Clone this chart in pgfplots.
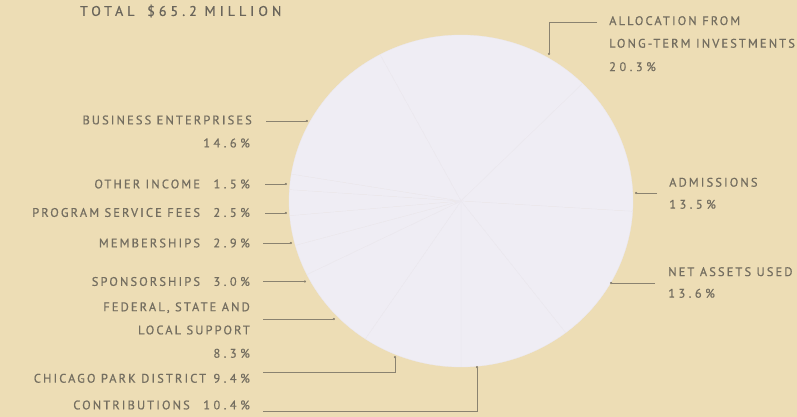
\documentclass[border=0pt]{standalone}
\usepackage{pgfplots}
\pgfplotsset{compat=1.18}
\usepackage{pgfplotstable}
\usetikzlibrary{arrows.meta}
\usepackage{fontspec}
\setmainfont{PT Sans}
\newfontfamily\lab[LetterSpace=17, FakeBold=0.6]{PT Sans}
\newfontfamily\numf[LetterSpace=28, FakeBold=0.6]{PT Sans}
\newfontfamily\ttlfont[LetterSpace=29, FakeBold=0.8]{PT Sans}
\newcommand\pct[1]{{\numf #1}}
\definecolor{bgc}{HTML}{EDDDB5}
\definecolor{piec}{HTML}{EFEDF4}
\definecolor{pieedge}{HTML}{EBE8EF}
\definecolor{txt}{HTML}{746E60}
\definecolor{ttl}{HTML}{6A655B}
\definecolor{lead}{HTML}{8A8270}

\pgfplotstableread[col sep=comma]{
label,value
Allocation from long-term investments,20.3
Admissions,13.5
Net assets used,13.6
Contributions,10.4
Chicago Park District,9.4
Federal state and local support,8.3
Sponsorships,3.0
Memberships,2.9
Program service fees,2.5
Other income,1.5
Business enterprises,14.6
}\piedata

\begin{document}
\begin{tikzpicture}[
  lbl/.style={font=\lab\fontsize{12.5}{14}\selectfont, text=txt, inner sep=0pt},
  ld/.style={draw=lead, line width=0.7bp, -{Circle[length=2.2bp]}}]
\pgfplotstablegetrowsof{\piedata}%
\pgfmathtruncatemacro\lastrow{\pgfplotsretval-1}%
\xdef\cumang{118.1}%
\pgfplotsforeachungrouped \i in {0,...,\lastrow}{%
  \pgfplotstablegetelem{\i}{value}\of\piedata
  \pgfmathsetmacro\sweep{\pgfplotsretval*3.6}%
  \expandafter\xdef\csname sa\i\endcsname{\cumang}%
  \pgfmathsetmacro\nextang{\cumang-\sweep}%
  \expandafter\xdef\csname ea\i\endcsname{\nextang}%
  \xdef\cumang{\nextang}%
}%
\useasboundingbox (0,0) rectangle (797bp,417bp);
\fill[bgc] (0,0) rectangle (797bp,417bp);
\begin{axis}[
  at={(0,0)}, anchor=south west,
  width=797bp, height=417bp, scale only axis,
  xmin=0, xmax=797, ymin=0, ymax=417,
  hide axis, clip=false]
\pgfplotsinvokeforeach{0,...,\lastrow}{%
  \fill[piec, draw=pieedge, line width=0.3bp]
    (axis cs:461,216) -- (axis cs:{461+172*cos(\csname sa#1\endcsname)},{216+166*sin(\csname sa#1\endcsname)})
    arc[start angle=\csname sa#1\endcsname, end angle=\csname ea#1\endcsname, x radius=172bp, y radius=166bp] -- cycle;
}
% leader lines
\draw[ld] (axis cs:597,395) -- (axis cs:549,395) -- (axis cs:549,362);
\draw[ld] (axis cs:657,224) -- (axis cs:635,224);
\draw[ld] (axis cs:655,134) -- (axis cs:610,134);
\draw[ld] (axis cs:266,296) -- (axis cs:308,296);
\draw[ld] (axis cs:265,233) -- (axis cs:287,233);
\draw[ld] (axis cs:265,204) -- (axis cs:287,204);
\draw[ld] (axis cs:263,174) -- (axis cs:292,174);
\draw[ld] (axis cs:263,135.5) -- (axis cs:306,135.5);
\draw[ld] (axis cs:263,98) -- (axis cs:335,98);
\draw[ld] (axis cs:263,44.5) -- (axis cs:395,44.5) -- (axis cs:395,61);
\draw[ld] (axis cs:263,6) -- (axis cs:477,6) -- (axis cs:477,51);
% title
\node[lbl, text=ttl, anchor=west, font=\ttlfont\fontsize{14}{16}\selectfont] at (axis cs:80,406) {TOTAL\hspace{5bp} \$65.2 MILLION};
% left labels
\node[lbl, anchor=east] at (axis cs:252,297) {BUSINESS ENTERPRISES};
\node[lbl, anchor=east] at (axis cs:250,274) {\pct{14.6\%}};
\node[lbl, anchor=east] at (axis cs:250,233) {OTHER INCOME\hspace{8bp} \pct{1.5\%}};
\node[lbl, anchor=east] at (axis cs:250,204.5) {PROGRAM SERVICE FEES\hspace{8bp} \pct{2.5\%}};
\node[lbl, anchor=east] at (axis cs:250,174) {MEMBERSHIPS\hspace{8bp} \pct{2.9\%}};
\node[lbl, anchor=east] at (axis cs:250,135.5) {SPONSORSHIPS\hspace{8bp} \pct{3.0\%}};
\node[lbl, anchor=east] at (axis cs:250,109.3) {FEDERAL, STATE AND};
\node[lbl, anchor=east] at (axis cs:250,87) {LOCAL SUPPORT};
\node[lbl, anchor=east] at (axis cs:250,63.7) {\pct{8.3\%}};
\node[lbl, anchor=east] at (axis cs:250,38.7) {CHICAGO PARK DISTRICT\hspace{2bp} \pct{9.4\%}};
\node[lbl, anchor=east] at (axis cs:250,12) {CONTRIBUTIONS\hspace{8bp} \pct{10.4\%}};
% right labels
\node[lbl, anchor=west] at (axis cs:609,396.3) {ALLOCATION FROM};
\node[lbl, anchor=west] at (axis cs:609,373.7) {LONG-TERM INVESTMENTS};
\node[lbl, anchor=west] at (axis cs:609,350.3) {\pct{20.3\%}};
\node[lbl, anchor=west] at (axis cs:669,234.7) {ADMISSIONS};
\node[lbl, anchor=west] at (axis cs:669,212.7) {\pct{13.5\%}};
\node[lbl, anchor=west] at (axis cs:668,145.3) {NET ASSETS USED};
\node[lbl, anchor=west] at (axis cs:668,123.7) {\pct{13.6\%}};
\end{axis}
\end{tikzpicture}
\end{document}
